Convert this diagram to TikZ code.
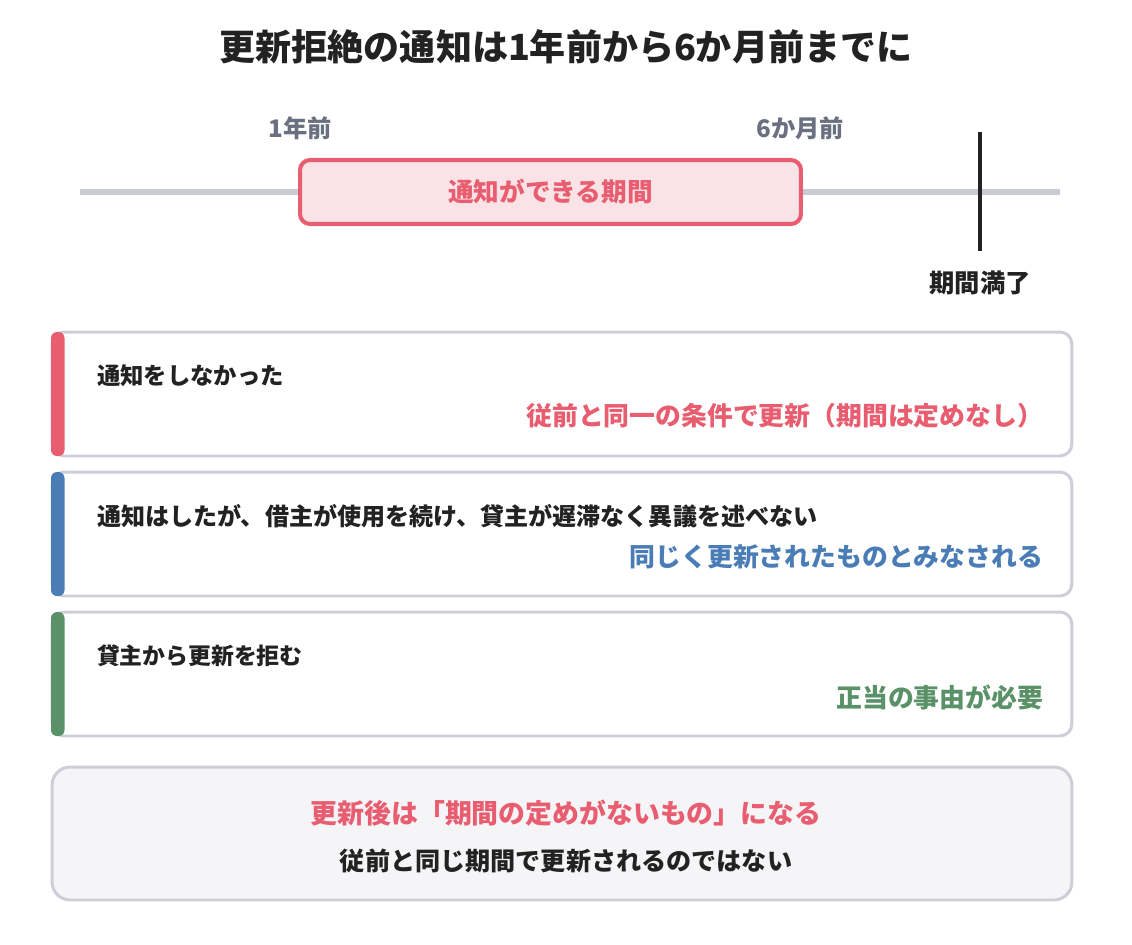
\documentclass[tikz,border=0pt]{standalone}
\usepackage{fontspec}
\setmainfont{Noto Sans CJK JP}
\usetikzlibrary{positioning}
\definecolor{accred}{HTML}{E85D6F}
\definecolor{pinkfill}{HTML}{FAE3E7}
\definecolor{tlgray}{HTML}{C8CAD4}
\definecolor{cardgray}{HTML}{CDCED8}
\definecolor{labgray}{HTML}{6B7080}
\definecolor{darktext}{HTML}{222222}
\definecolor{accblue}{HTML}{4A7DB5}
\definecolor{accgreen}{HTML}{5A9168}
\definecolor{notefill}{HTML}{F5F5F8}
\newcommand{\fs}[1]{\fontsize{#1pt}{#1pt}\selectfont\bfseries}
\tikzset{
  px/.style={x=0.02cm,y=-0.02cm},
  txt/.style={inner sep=0pt,outer sep=0pt,font=\fs{13}},
  ticklabel/.style={txt,text=labgray,font=\fs{13.8}},
  periodbox/.style={draw=accred,line width=2.3pt,fill=pinkfill,rounded corners=0.2cm,
    minimum width=10.02cm,minimum height=1.28cm,inner sep=0pt,text=accred,font=\fs{14.6}},
  card/.style={draw=cardgray,line width=1.7pt,fill=white,rounded corners=0.24cm,
    minimum width=20.4cm,minimum height=2.48cm,inner sep=0pt},
  accent/.style={rounded corners=0.12cm},
  lefttext/.style={txt,anchor=west,text=darktext,font=\fs{13.3}},
  righttext/.style={txt,anchor=east,font=\fs{14.7}},
  notebox/.style={draw=cardgray,line width=1.7pt,fill=notefill,rounded corners=0.36cm,
    minimum width=20.4cm,minimum height=2.66cm,inner sep=0pt},
}
\begin{document}
\begin{tikzpicture}[px]
\useasboundingbox (0,0) rectangle (1132,944);
% title
\node[txt,text=darktext,font=\fs{20.5}] (title) at (566,47) {更新拒絶の通知は1年前から6か月前までに};
% timeline
\coordinate (tlL) at (80,192);
\coordinate (tlR) at (1060,192);
\draw[tlgray,line width=3.1pt] (tlL) -- (tlR);
\node[periodbox] (period) at (550.5,192) {通知ができる期間};
\node[ticklabel] (oneyear) at (300,128) {1年前};
\node[ticklabel] (sixmonth) at (800,128) {6か月前};
\coordinate (tickT) at (980,132);
\coordinate (tickB) at (980,251);
\draw[darktext,line width=2pt] (tickT) -- (tickB);
\node[txt,text=darktext,font=\fs{14.4}] (expiry) at (980,283) {期間満了};
% card 1
\node[card] (c1) at (562,394) {};
\fill[accred,accent] (51,332) rectangle (64.5,456);
\node[lefttext] (c1l) at (97,376) {通知をしなかった};
\node[righttext,text=accred] (c1r) at (1043,416) {従前と同一の条件で更新（期間は定めなし）};
% card 2
\node[card] (c2) at (562,534) {};
\fill[accblue,accent] (51,472) rectangle (64.5,596);
\node[lefttext,font=\fs{13.7}] (c2l) at (97,516) {通知はしたが、借主が使用を続け、貸主が遅滞なく異議を述べない};
\node[righttext,text=accblue] (c2r) at (1043,557) {同じく更新されたものとみなされる};
% card 3
\node[card] (c3) at (562,674) {};
\fill[accgreen,accent] (51,612) rectangle (64.5,736);
\node[lefttext,font=\fs{13}] (c3l) at (97,656) {貸主から更新を拒む};
\node[righttext,text=accgreen] (c3r) at (1043,697) {正当の事由が必要};
% note
\node[notebox] (note) at (562,833.5) {};
\node[txt,text=accred,font=\fs{15.3}] (note1) at (566,813) {更新後は「期間の定めがないもの」になる};
\node[txt,text=darktext,font=\fs{14.3}] (note2) at (566,861) {従前と同じ期間で更新されるのではない};
\end{tikzpicture}
\end{document}
